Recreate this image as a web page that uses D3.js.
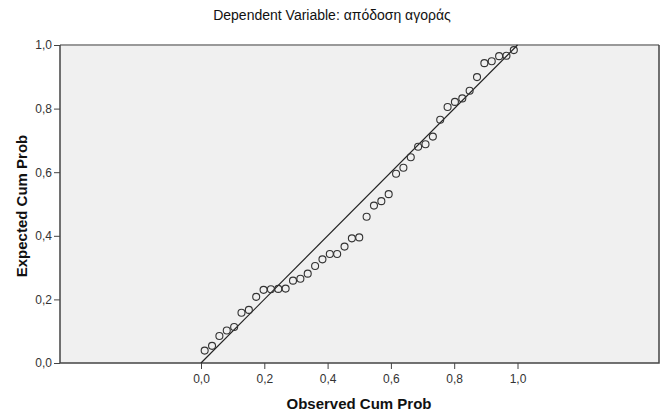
<!DOCTYPE html>
<html>
<head>
<meta charset="utf-8">
<script src="https://d3js.org/d3.v7.min.js"></script>
<style>
  body { margin: 0; background: #fff; }
  svg text { font-family: "Liberation Sans", Arial, sans-serif; }
</style>
</head>
<body>
<svg id="pp_chart" width="666" height="415"></svg>
<script>
// observed vs expected cumulative probabilities
var observed = [0.0116, 0.0349, 0.0581, 0.0814, 0.1047, 0.1279, 0.1512, 0.1744, 0.1977, 0.2209,
  0.2442, 0.2674, 0.2907, 0.3140, 0.3372, 0.3605, 0.3837, 0.4070, 0.4302, 0.4535,
  0.4767, 0.5000, 0.5233, 0.5465, 0.5698, 0.5930, 0.6163, 0.6395, 0.6628, 0.6860,
  0.7093, 0.7326, 0.7558, 0.7791, 0.8023, 0.8256, 0.8488, 0.8721, 0.8953, 0.9186,
  0.9419, 0.9651, 0.9884];
var expected = [0.039, 0.054, 0.085, 0.102, 0.113, 0.158, 0.167, 0.208, 0.230, 0.232,
  0.233, 0.234, 0.259, 0.265, 0.281, 0.305, 0.326, 0.343, 0.343, 0.366,
  0.392, 0.395, 0.460, 0.495, 0.509, 0.531, 0.595, 0.614, 0.647, 0.680,
  0.688, 0.712, 0.765, 0.805, 0.821, 0.832, 0.856, 0.899, 0.943, 0.949,
  0.965, 0.966, 0.984];
var tickValues = [0, 0.2, 0.4, 0.6, 0.8, 1.0];
var titleText = "Dependent Variable: απόδοση αγοράς";

var svg = d3.select("#pp_chart");
var plot = {left: 60, right: 659, top: 45, bottom: 363};

var x = d3.scaleLinear().domain([0, 1]).range([201, 517.5]);
var y = d3.scaleLinear().domain([0, 1]).range([plot.bottom, plot.top]);
var fmt = function(d) { return d3.format(".1f")(d).replace(".", ","); };

// plot background
svg.append("rect")
  .attr("x", plot.left).attr("y", plot.top)
  .attr("width", plot.right - plot.left).attr("height", plot.bottom - plot.top)
  .style("fill", "#f0f0f0");

// axes
var xAxis = svg.append("g")
  .attr("transform", "translate(0," + plot.bottom + ")")
  .call(d3.axisBottom(x).tickValues(tickValues).tickFormat(fmt).tickSize(6).tickPadding(5));
var yAxis = svg.append("g")
  .attr("transform", "translate(" + plot.left + ",0)")
  .call(d3.axisLeft(y).tickValues(tickValues).tickFormat(fmt).tickSize(6).tickPadding(2));
[xAxis, yAxis].forEach(function(a) {
  a.select(".domain").remove();
  a.selectAll(".tick line").style("stroke", "#444");
  a.selectAll(".tick text").style("font-size", "12px").style("fill", "#333")
    .style("font-family", "'Liberation Sans', Arial, sans-serif");
});

// frame
svg.append("line").attr("x1", plot.left).attr("x2", plot.right)
  .attr("y1", plot.top).attr("y2", plot.top)
  .style("stroke", "#999").style("stroke-width", 2);
svg.append("path")
  .attr("d", "M" + plot.left + "," + plot.top + "V" + plot.bottom + "H" + plot.right + "V" + plot.top)
  .style("fill", "none").style("stroke", "#444").style("stroke-width", 1.5);

// reference diagonal
svg.append("line")
  .attr("x1", x(0)).attr("y1", y(0)).attr("x2", x(1)).attr("y2", y(1))
  .style("stroke", "#222").style("stroke-width", 1.2);

// points
svg.selectAll("circle.pt")
  .data(observed)
  .enter()
  .append("circle")
  .attr("class", "pt")
  .attr("cx", function(d) { return x(d); })
  .attr("cy", function(d, i) { return y(expected[i]); })
  .attr("r", 3.5)
  .style("fill", "none")
  .style("stroke", "#333")
  .style("stroke-width", 1.1);

// titles
svg.append("text")
  .attr("x", 332).attr("y", 20)
  .attr("text-anchor", "middle")
  .style("font-size", "14px").style("fill", "#111")
  .text(titleText);

svg.append("text")
  .attr("x", 359).attr("y", 409)
  .attr("text-anchor", "middle")
  .style("font-size", "15px").style("font-weight", "bold").style("fill", "#111")
  .text("Observed Cum Prob");

svg.append("text")
  .attr("transform", "translate(27,206) rotate(-90)")
  .attr("text-anchor", "middle")
  .style("font-size", "15px").style("font-weight", "bold").style("fill", "#111")
  .text("Expected Cum Prob");
</script>
</body>
</html>
